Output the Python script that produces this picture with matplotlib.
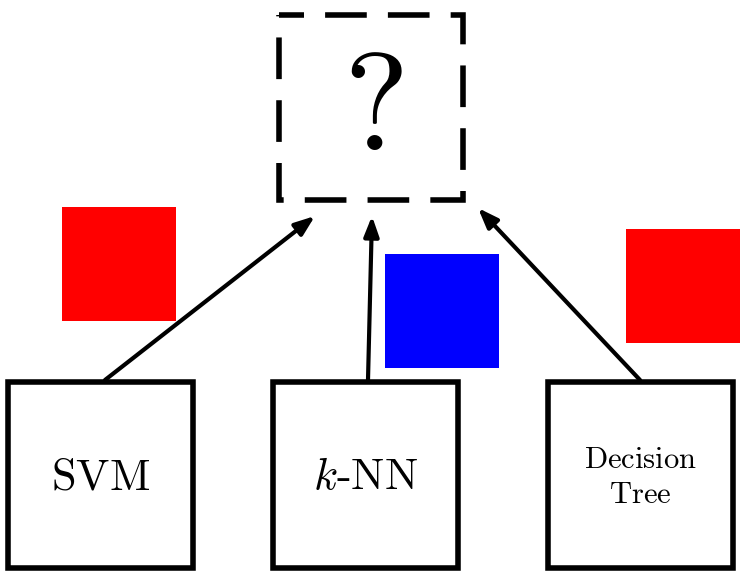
import matplotlib
matplotlib.use("Agg")
import matplotlib.pyplot as plt
from matplotlib.patches import Rectangle

plt.rcParams['mathtext.fontset'] = 'cm'

# model boxes: (x, y, w, h) in pixel units, label
model_names = [r"$\mathrm{SVM}$", r"$k\mathrm{\text{-}NN}$", "$\\mathrm{Decision}$\n$\\mathrm{Tree}$"]
model_x = [8, 273, 548]
model_sizes = [32, 32, 22]
box_y, box_w, box_h = 382, 185, 186

# predictions (coloured squares)
pred_colors = ["#ff0000", "#0000ff", "#ff0000"]
pred_x = [62, 385, 626]
pred_y = [207, 254, 229]
pred_size = 114

# arrows: start -> end
arrow_start = [(105, 380), (368, 380), (640, 380)]
arrow_end = [(315, 216), (372, 216), (478, 208)]

fig = plt.figure(figsize=(7.47, 5.78), dpi=100)
ax = fig.add_axes([0, 0, 1, 1])
ax.set_xlim(0, 747)
ax.set_ylim(578, 0)
ax.axis("off")

for name, x, fs in zip(model_names, model_x, model_sizes):
    ax.add_patch(Rectangle((x, box_y), box_w, box_h, fill=False, lw=4, ec="black"))
    ax.text(x + box_w / 2, box_y + box_h / 2 + 2, name, ha="center", va="center",
            fontsize=fs, linespacing=1.25)

# dashed unknown box
ax.add_patch(Rectangle((279, 15), 184, 185, fill=False, lw=4, ec="black",
                       ls=(3, (7.5, 3.8))))
ax.text(373, 112, r"$?$", ha="center", va="center", fontsize=100)

for c, x, y in zip(pred_colors, pred_x, pred_y):
    ax.add_patch(Rectangle((x, y), pred_size, pred_size, color=c, lw=0))

for s, e in zip(arrow_start, arrow_end):
    ax.annotate("", xy=e, xytext=s,
                arrowprops=dict(arrowstyle="-|>,head_length=1.2,head_width=0.45",
                                lw=3, color="black", shrinkA=0, shrinkB=0))

fig.savefig("out.png", dpi=100)
